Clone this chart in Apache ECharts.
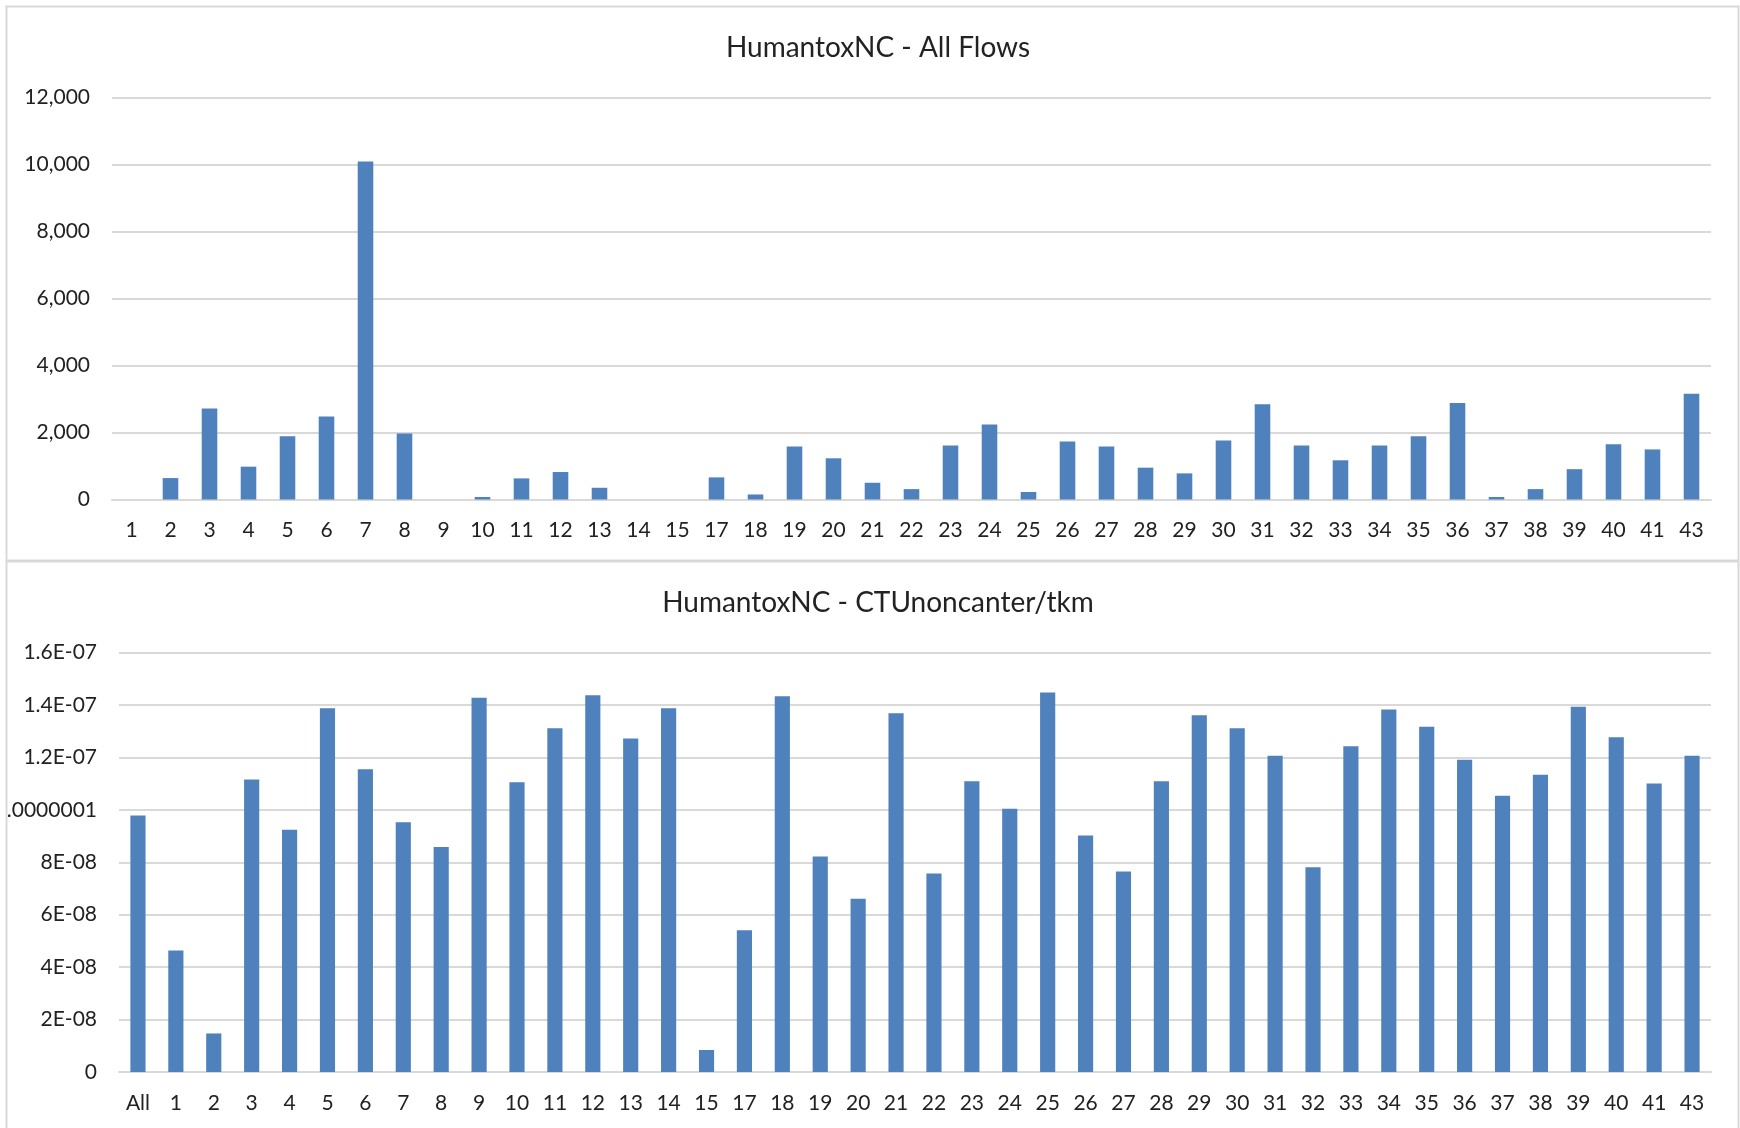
<!DOCTYPE html>
<html>
<head>
<meta charset="utf-8">
<title>HumantoxNC</title>
<script src="https://cdn.jsdelivr.net/npm/echarts@6/dist/echarts.min.js"></script>
<style>
  html, body { margin: 0; padding: 0; background: #ffffff; }
  #chart { width: 1740px; height: 1128px; }
</style>
</head>
<body>
<div id="chart"></div>
<script>
// Upper panel: all flows per region
const flowCategories = ['1','2','3','4','5','6','7','8','9','10','11','12','13','14','15',
  '17','18','19','20','21','22','23','24','25','26','27','28','29','30','31','32','33','34',
  '35','36','37','38','39','40','41','43'];
const flowValues = [0, 640, 2720, 980, 1890, 2475, 10090, 1970, 0, 75, 630, 820, 350, 0, 0,
  660, 150, 1580, 1230, 500, 310, 1610, 2240, 225, 1730, 1580, 950, 780, 1760, 2840, 1610, 1170, 1610,
  1890, 2880, 75, 310, 905, 1650, 1495, 3160];
const flowTickLabels = ['0', '2,000', '4,000', '6,000', '8,000', '10,000', '12,000'];

// Lower panel: CTUnoncanter per tkm
const tkmCategories = ['All','1','2','3','4','5','6','7','8','9','10','11','12','13','14','15',
  '17','18','19','20','21','22','23','24','25','26','27','28','29','30','31','32','33','34',
  '35','36','37','38','39','40','41','43'];
const tkmValues = [9.78e-8, 4.63e-8, 1.47e-8, 11.16e-8, 9.24e-8, 13.87e-8, 11.55e-8, 9.53e-8, 8.58e-8,
  14.27e-8, 11.05e-8, 13.11e-8, 14.37e-8, 12.72e-8, 13.87e-8, 0.84e-8,
  5.41e-8, 14.33e-8, 8.22e-8, 6.61e-8, 13.68e-8, 7.57e-8, 11.09e-8, 10.04e-8, 14.47e-8, 9.02e-8,
  7.65e-8, 11.09e-8, 13.61e-8, 13.11e-8, 12.06e-8, 7.81e-8, 12.42e-8, 13.83e-8,
  13.17e-8, 11.91e-8, 10.54e-8, 11.34e-8, 13.93e-8, 12.77e-8, 11.00e-8, 12.06e-8];
const tkmTickLabels = ['0', '2E-08', '4E-08', '6E-08', '8E-08', '.0000001', '1.2E-07', '1.4E-07', '1.6E-07'];

const FONT = 'Lato';
const TEXT = '#222222';
const GRID = '#d9d9d9';
const BAR = '#4f81bd';

const chart = echarts.init(document.getElementById('chart'), null, { renderer: 'canvas' });

function valueAxis(gridIndex, max, interval, labels) {
  return {
    type: 'value', gridIndex, min: 0, max, interval,
    axisLine: { show: false }, axisTick: { show: false },
    splitLine: { lineStyle: { color: GRID, width: 2 } },
    axisLabel: {
      margin: 22, fontFamily: FONT, fontSize: 21, color: TEXT,
      formatter: v => labels[Math.round(v / interval)]
    }
  };
}

function categoryAxis(gridIndex, data) {
  return {
    type: 'category', gridIndex, data,
    axisLine: { lineStyle: { color: GRID, width: 2 } },
    axisTick: { show: false },
    axisLabel: { interval: 0, margin: 31, verticalAlign: 'middle', fontFamily: FONT, fontSize: 21, color: TEXT }
  };
}

chart.setOption({
  animation: false,
  backgroundColor: '#ffffff',
  title: [
    { text: 'HumantoxNC - All Flows', left: 873, top: 28.5, textAlign: 'center',
      textStyle: { fontFamily: FONT, fontSize: 28, fontWeight: 'normal', color: TEXT } },
    { text: 'HumantoxNC - CTUnoncanter/tkm', left: 873, top: 583.5, textAlign: 'center',
      textStyle: { fontFamily: FONT, fontSize: 28, fontWeight: 'normal', color: TEXT } }
  ],
  graphic: [
    { type: 'rect', shape: { x: 6.5, y: 6.5, width: 1732, height: 554 },
      style: { fill: 'none', stroke: GRID, lineWidth: 2 }, silent: true },
    { type: 'rect', shape: { x: 6.5, y: 561.5, width: 1732, height: 600 },
      style: { fill: 'none', stroke: GRID, lineWidth: 2 }, silent: true }
  ],
  grid: [
    { left: 112, top: 97.5, width: 1599, height: 402 },
    { left: 119, top: 652.5, width: 1592, height: 419.5 }
  ],
  xAxis: [categoryAxis(0, flowCategories), categoryAxis(1, tkmCategories)],
  yAxis: [
    valueAxis(0, 12000, 2000, flowTickLabels),
    valueAxis(1, 1.6e-7, 2e-8, tkmTickLabels)
  ],
  series: [
    { type: 'bar', xAxisIndex: 0, yAxisIndex: 0, data: flowValues,
      barCategoryGap: '60%', itemStyle: { color: BAR } },
    { type: 'bar', xAxisIndex: 1, yAxisIndex: 1, data: tkmValues,
      barCategoryGap: '60%', itemStyle: { color: BAR } }
  ]
});
</script>
</body>
</html>
